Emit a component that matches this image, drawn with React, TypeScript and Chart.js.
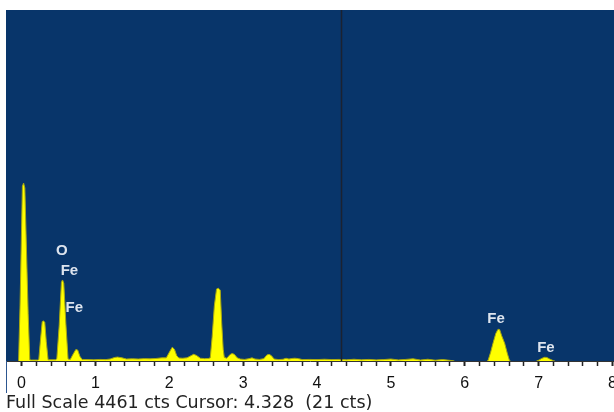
import React, { useEffect, useRef } from "react";
import { Chart, registerables } from "chart.js";

Chart.register(...registerables);

// ---- Data (energy in keV, intensity in counts) ----
const spectrumKeV = [
  -0.21, -0.04, -0.02, 0.012, 0.028, 0.045, 0.09, 0.112,
  0.13, 0.22, 0.234, 0.255, 0.28, 0.297, 0.315, 0.335, 0.36,
  0.46, 0.478, 0.51, 0.54, 0.555, 0.572, 0.6, 0.63,
  0.66, 0.7, 0.735, 0.76, 0.79, 0.82,
  0.9, 0.98, 1.06, 1.14,
  1.2, 1.26, 1.3, 1.36, 1.42,
  1.5, 1.58, 1.66, 1.74, 1.82, 1.9,
  1.96, 2.0, 2.04, 2.07, 2.1, 2.13,
  2.18, 2.24, 2.28, 2.33, 2.37, 2.42, 2.48, 2.53,
  2.555, 2.58, 2.61, 2.64, 2.665, 2.69, 2.71, 2.73, 2.745,
  2.78, 2.82, 2.85, 2.88, 2.92, 2.96,
  3.02, 3.08, 3.12, 3.16, 3.22,
  3.28, 3.32, 3.35, 3.38, 3.42,
  3.48, 3.54, 3.58, 3.62, 3.66, 3.7, 3.75, 3.8,
  3.9, 4.0, 4.1, 4.2, 4.3,
  4.4, 4.5, 4.6, 4.7, 4.8, 4.9, 5.0, 5.1, 5.2, 5.3, 5.4, 5.5, 5.6, 5.7, 5.8, 5.86,
  6.3, 6.315, 6.35, 6.382, 6.42, 6.45, 6.472, 6.5, 6.54, 6.575, 6.605, 6.62,
  6.97, 7.0, 7.04, 7.08, 7.11, 7.15, 7.2, 7.22, 8.02,
];
const spectrumCts = [
  0, 0, 700, 2220, 2262, 2200, 600, 15,
  12, 12, 20, 250, 500, 510, 490, 250, 15,
  15, 30, 450, 1000, 1030, 990, 480, 25,
  20, 90, 145, 140, 60, 20,
  18, 15, 20, 18,
  25, 45, 50, 40, 25,
  28, 25, 30, 28, 32, 40,
  40, 110, 175, 150, 70, 38,
  35, 40, 60, 85, 70, 35, 30, 32,
  40, 300, 700, 915, 925, 900, 480, 150, 45,
  35, 80, 95, 85, 40, 25,
  20, 30, 40, 25, 20,
  30, 75, 85, 70, 25,
  18, 22, 35, 25, 32, 35, 30, 18,
  20, 18, 22, 18, 20,
  15, 22, 15, 20, 14, 18, 25, 14, 20, 28, 12, 22, 10, 18, 8, 0,
  0, 5, 110, 225, 350, 403, 400, 320, 225, 100, 5, 0,
  0, 10, 32, 47, 45, 25, 3, 0, 0,
];

const tickValues = [
  0, 0.2, 0.4, 0.6, 0.8, 1, 1.2, 1.4, 1.6, 1.8, 2, 2.2, 2.4, 2.6, 2.8,
  3, 3.2, 3.4, 3.6, 3.8, 4, 4.2, 4.4, 4.6, 4.8, 5, 5.2, 5.4, 5.6, 5.8,
  6, 6.2, 6.4, 6.6, 6.8, 7, 7.2, 7.4, 7.6, 7.8, 8,
];
const tickLabels = ["0", "1", "2", "3", "4", "5", "6", "7", "8"];

const peakLabelText = ["O", "Fe", "Fe", "Fe", "Fe"];
const peakLabelKeV = [0.545, 0.649, 0.715, 6.423, 7.099];
const peakLabelCts = [1398, 1150, 670, 531, 172];

const cursorKeV = 4.328;
const fullScaleCts = 4461;
const xMin = -0.21;
const xMax = 8.02;
const footerText = "Full Scale 4461 cts Cursor: 4.328  (21 cts)";

const FONT = "Arial, 'Liberation Sans', sans-serif";
const FOOT_FONT = "'DejaVu Sans', Verdana, sans-serif";
const PLOT_BG = "#08356A";

const isMajor = (v: number) => Math.abs(v - Math.round(v)) < 1e-6;

export default function App() {
  const canvasRef = useRef<HTMLCanvasElement | null>(null);

  useEffect(() => {
    const canvas = canvasRef.current;
    if (!canvas) return;

    const points = spectrumKeV.map((x, i) => ({ x, y: spectrumCts[i] }));

    const bgPlugin = {
      id: "plotBackground",
      beforeDatasetsDraw(chart: any) {
        const { ctx, chartArea } = chart;
        ctx.save();
        ctx.fillStyle = PLOT_BG;
        ctx.fillRect(
          chartArea.left,
          chartArea.top,
          chartArea.right - chartArea.left,
          chartArea.bottom - chartArea.top
        );
        ctx.restore();
      },
    };

    const overlayPlugin = {
      id: "overlay",
      afterDatasetsDraw(chart: any) {
        const { ctx, chartArea, scales } = chart;
        const xs = scales.x;
        const ys = scales.y;
        ctx.save();
        const cx = Math.round(xs.getPixelForValue(cursorKeV)) + 0.5;
        ctx.strokeStyle = "#1b2230";
        ctx.lineWidth = 1.5;
        ctx.beginPath();
        ctx.moveTo(cx, chartArea.top);
        ctx.lineTo(cx, chartArea.bottom);
        ctx.stroke();
        ctx.fillStyle = "#DDE4EE";
        ctx.font = `bold 15px ${FONT}`;
        ctx.textAlign = "center";
        ctx.textBaseline = "middle";
        peakLabelText.forEach((t, i) => {
          ctx.fillText(
            t,
            xs.getPixelForValue(peakLabelKeV[i]),
            ys.getPixelForValue(peakLabelCts[i])
          );
        });
        ctx.restore();
      },
      afterDraw(chart: any) {
        const { ctx, chartArea } = chart;
        ctx.save();
        ctx.strokeStyle = "#2c5690";
        ctx.lineWidth = 1;
        ctx.beginPath();
        ctx.moveTo(chartArea.left + 0.5, chartArea.bottom);
        ctx.lineTo(chartArea.left + 0.5, chartArea.bottom + 32);
        ctx.stroke();
        ctx.restore();
      },
    };

    const chart = new Chart(canvas, {
      type: "line",
      data: {
        datasets: [
          {
            data: points,
            fill: "origin",
            backgroundColor: "#FFFF00",
            borderColor: "#A8A810",
            borderWidth: 1,
            pointRadius: 0,
            tension: 0,
            segment: {
              borderColor: (ctx: any) =>
                ctx.p0.parsed.y === 0 && ctx.p1.parsed.y === 0
                  ? "rgba(0,0,0,0)"
                  : undefined,
            },
          },
        ],
      },
      plugins: [bgPlugin, overlayPlugin],
      options: {
        responsive: false,
        animation: false,
        devicePixelRatio: 1,
        layout: { padding: { top: 10, left: 6, right: 0, bottom: 0 } },
        plugins: {
          legend: { display: false },
          tooltip: { enabled: false },
          title: {
            display: true,
            position: "bottom",
            align: "start",
            text: footerText,
            color: "#222222",
            font: { family: FOOT_FONT, size: 17.5, weight: "normal", lineHeight: 1.0 },
            padding: { top: 0, bottom: 0 },
          },
        },
        scales: {
          x: {
            type: "linear",
            min: xMin,
            max: xMax,
            afterBuildTicks: (scale: any) => {
              scale.ticks = tickValues.map((v) => ({ value: v }));
            },
            afterFit: (scale: any) => {
              scale.paddingLeft = 0;
              scale.paddingRight = 0;
              scale.height = 33.5;
            },
            ticks: {
              autoSkip: false,
              maxRotation: 0,
              minRotation: 0,
              padding: 8,
              color: "#111111",
              font: { family: FONT, size: 16 },
              callback: (v: any) =>
                isMajor(Number(v)) ? tickLabels[Math.round(Number(v))] : "",
            },
            grid: {
              display: true,
              drawOnChartArea: false,
              drawTicks: true,
              tickLength: 5,
              tickColor: "#222222",
              tickWidth: (ctx: any) =>
                ctx.tick && isMajor(ctx.tick.value) ? 2 : 1.5,
            },
            border: { display: true, color: "#333333", width: 1 },
          },
          y: {
            display: false,
            min: 0,
            max: fullScaleCts,
          },
        },
      },
    });

    return () => chart.destroy();
  }, []);

  return (
    <div style={{ position: "absolute", left: 0, top: 0, width: 614, height: 412, background: "#fff" }}>
      <canvas ref={canvasRef} width={614} height={412} style={{ display: "block" }} />
    </div>
  );
}
